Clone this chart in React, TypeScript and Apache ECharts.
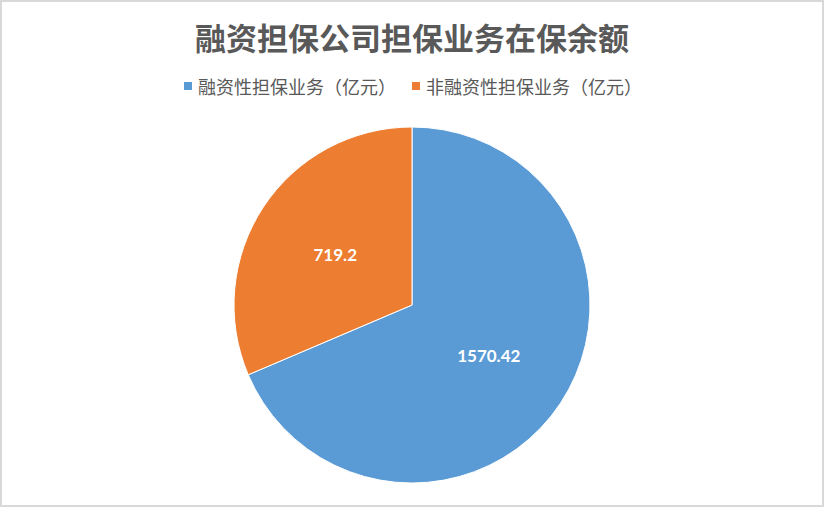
import { useEffect, useRef } from "react";
import * as echarts from "echarts";

const titleText = "融资担保公司担保业务在保余额";
const categories = ["融资性担保业务（亿元）", "非融资性担保业务（亿元）"];
const values = [1570.42, 719.2];
const colors = ["#5b9bd5", "#ed7d31"];

export default function App() {
    const chartRef = useRef<HTMLDivElement>(null);

    useEffect(() => {
        if (!chartRef.current) return;
        const chart = echarts.init(chartRef.current, undefined, { renderer: "svg" });

        chart.setOption({
            animation: false,
            title: {
                text: titleText,
                left: "center",
                top: 14,
                textStyle: {
                    fontFamily: "Noto Sans CJK SC",
                    fontSize: 31,
                    fontWeight: "bold",
                    color: "#595959",
                },
            },
            legend: {
                data: categories,
                top: 70,
                left: "center",
                icon: "rect",
                itemWidth: 10,
                itemHeight: 10,
                itemGap: 14,
                textStyle: {
                    fontFamily: "Noto Sans CJK SC",
                    fontSize: 18,
                    color: "#595959",
                },
            },
            color: colors,
            series: [
                {
                    type: "pie",
                    center: [410, 303],
                    radius: [0, 178],
                    startAngle: 90,
                    clockwise: true,
                    itemStyle: { borderColor: "#ffffff", borderWidth: 1 },
                    label: {
                        show: true,
                        position: "inside",
                        formatter: "{c}",
                        color: "#ffffff",
                        fontFamily: "Lato",
                        fontWeight: "bold",
                        fontSize: 17,
                    },
                    labelLine: { show: false },
                    emphasis: { disabled: true },
                    data: categories.map((name, i) => ({ name, value: values[i] })),
                },
            ],
        });

        return () => chart.dispose();
    }, []);

    return (
        <div
            style={{
                position: "fixed",
                left: 0,
                top: 0,
                width: 824,
                height: 507,
                boxSizing: "border-box",
                border: "2px solid #d9d9d9",
                background: "#ffffff",
            }}
        >
            <div ref={chartRef} style={{ width: 820, height: 503 }} />
        </div>
    );
}
